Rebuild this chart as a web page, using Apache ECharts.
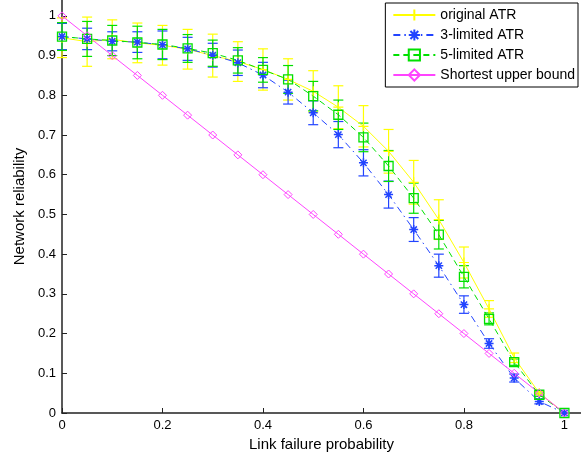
<!DOCTYPE html>
<html>
<head>
<meta charset="utf-8">
<script src="https://cdn.jsdelivr.net/npm/echarts@6/dist/echarts.min.js"></script>
<style>
html,body{margin:0;padding:0;background:#fff;}
#chart{width:581px;height:463px;}
</style>
</head>
<body>
<div id="chart"></div>
<script>
// Link failure probability (x)
var xs = [0, 0.05, 0.1, 0.15, 0.2, 0.25, 0.3, 0.35, 0.4, 0.45, 0.5, 0.55, 0.6, 0.65, 0.7, 0.75, 0.8, 0.85, 0.9, 0.95, 1];
// original ATR: mean and error half-width
var origMean = [0.945, 0.935, 0.941, 0.932, 0.926, 0.916, 0.900, 0.885, 0.865, 0.840, 0.810, 0.770, 0.722, 0.659, 0.581, 0.487, 0.379, 0.262, 0.139, 0.050, 0];
var origErr  = [0.050, 0.062, 0.049, 0.050, 0.050, 0.050, 0.054, 0.050, 0.052, 0.052, 0.052, 0.054, 0.052, 0.055, 0.055, 0.050, 0.039, 0.021, 0.012, 0.004, 0];
// 3-limited ATR
var lim3Mean = [0.948, 0.942, 0.936, 0.934, 0.927, 0.917, 0.901, 0.882, 0.851, 0.808, 0.756, 0.701, 0.630, 0.550, 0.462, 0.371, 0.273, 0.175, 0.088, 0.029, 0];
var lim3Err  = [0.033, 0.027, 0.024, 0.026, 0.035, 0.029, 0.030, 0.032, 0.032, 0.030, 0.030, 0.033, 0.033, 0.034, 0.030, 0.029, 0.022, 0.012, 0.010, 0.006, 0];
// 5-limited ATR
var lim5Mean = [0.948, 0.942, 0.938, 0.933, 0.928, 0.918, 0.906, 0.888, 0.864, 0.840, 0.798, 0.751, 0.694, 0.622, 0.541, 0.449, 0.343, 0.237, 0.128, 0.046, 0];
var lim5Err  = [0.035, 0.044, 0.038, 0.041, 0.038, 0.035, 0.033, 0.032, 0.031, 0.035, 0.037, 0.037, 0.036, 0.039, 0.038, 0.036, 0.028, 0.015, 0.008, 0.004, 0];
// Shortest upper bound
var upperBound = [1, 0.95, 0.9, 0.85, 0.8, 0.75, 0.7, 0.65, 0.6, 0.55, 0.5, 0.45, 0.4, 0.35, 0.3, 0.25, 0.2, 0.15, 0.1, 0.05, 0];
var seriesNames = ['original ATR', '3-limited ATR', '5-limited ATR', 'Shortest upper bound'];
var xTicks = [0, 0.2, 0.4, 0.6, 0.8, 1];
var yTicks = [0, 0.1, 0.2, 0.3, 0.4, 0.5, 0.6, 0.7, 0.8, 0.9, 1];

var C_Y = '#ffff00', C_B = '#2244ff', C_G = '#00e000', C_M = '#ff44ff';
var FONT = "'Liberation Sans', Arial, Helvetica, sans-serif";

function pairs(ys){ return xs.map(function(x,i){ return [x, ys[i]]; }); }
function errData(m, e){ return xs.map(function(x,i){ return [x, m[i]-e[i], m[i]+e[i]]; }); }
function errSeries(name, m, e, color){
  return {
    type:'custom', name:name, coordinateSystem:'cartesian2d', silent:true,
    encode:{x:0, y:[1,2]},
    data: errData(m, e),
    renderItem: function(params, api){
      var x = api.value(0), lo = api.value(1), hi = api.value(2);
      var p1 = api.coord([x, lo]), p2 = api.coord([x, hi]);
      var w = 5;
      var st = {stroke: color, lineWidth: 1.2};
      return {type:'group', children:[
        {type:'line', shape:{x1:p1[0], y1:p1[1], x2:p2[0], y2:p2[1]}, style:st},
        {type:'line', shape:{x1:p1[0]-w, y1:p1[1], x2:p1[0]+w, y2:p1[1]}, style:st},
        {type:'line', shape:{x1:p2[0]-w, y1:p2[1], x2:p2[0]+w, y2:p2[1]}, style:st}
      ]};
    }
  };
}

var chart = echarts.init(document.getElementById('chart'), null, {renderer:'canvas'});
chart.setOption({
  animation:false,
  backgroundColor:'#fff',
  grid:{left:62, right:0, top:0, bottom:50},
  legend:{
    data: seriesNames, orient:'vertical', right:3, top:3,
    itemWidth:42, itemHeight:14, itemGap:6,
    padding:[5,3,5,7], borderColor:'#000', borderWidth:1, backgroundColor:'#fff',
    textStyle:{fontSize:14, fontFamily:FONT, color:'#000'}
  },
  xAxis:{
    type:'value', min:0, max:1.033,
    name:'Link failure probability', nameLocation:'middle', nameGap:24,
    nameTextStyle:{fontSize:15, fontFamily:FONT, color:'#000'},
    axisLine:{show:true, lineStyle:{color:'#222', width:1.5}},
    axisTick:{show:true, inside:true, length:5, customValues:xTicks, lineStyle:{color:'#222'}},
    axisLabel:{customValues:xTicks, margin:6, fontSize:13, fontFamily:FONT, color:'#000'},
    splitLine:{show:false}
  },
  yAxis:{
    type:'value', min:0, max:1.04,
    name:'Network reliability', nameLocation:'middle', nameRotate:90, nameGap:35,
    nameTextStyle:{fontSize:15, fontFamily:FONT, color:'#000'},
    axisLine:{show:true, lineStyle:{color:'#222', width:1.5}},
    axisTick:{show:true, inside:true, length:5, customValues:yTicks, lineStyle:{color:'#222'}},
    axisLabel:{customValues:yTicks, margin:6, fontSize:13, fontFamily:FONT, color:'#000'},
    splitLine:{show:false}
  },
  series:[
    errSeries('errOrig', origMean, origErr, C_Y),
    {type:'line', name:seriesNames[0], data:pairs(origMean),
     symbol:'path://M5,0L5,10M0,5L10,5', symbolSize:10,
     lineStyle:{color:C_Y, width:1, type:'solid'},
     itemStyle:{color:'rgba(0,0,0,0)', borderColor:C_Y, borderWidth:1.2}},
    errSeries('err3', lim3Mean, lim3Err, C_B),
    {type:'line', name:seriesNames[1], data:pairs(lim3Mean),
     symbol:'path://M5,0L5,10M0,5L10,5M1.5,1.5L8.5,8.5M1.5,8.5L8.5,1.5', symbolSize:9,
     lineStyle:{color:C_B, width:1, type:[7,4,1.5,4]},
     itemStyle:{color:'rgba(0,0,0,0)', borderColor:C_B, borderWidth:1.5}},
    errSeries('err5', lim5Mean, lim5Err, C_G),
    {type:'line', name:seriesNames[2], data:pairs(lim5Mean),
     symbol:'rect', symbolSize:9,
     lineStyle:{color:C_G, width:1, type:[6,4]},
     itemStyle:{color:'rgba(0,0,0,0)', borderColor:C_G, borderWidth:1.3}},
    {type:'line', name:seriesNames[3], data:pairs(upperBound),
     symbol:'path://M5,0L10,5L5,10L0,5Z', symbolSize:8,
     lineStyle:{color:C_M, width:1, type:'solid'},
     itemStyle:{color:'rgba(0,0,0,0)', borderColor:C_M, borderWidth:1}}
  ]
});
</script>
</body>
</html>
